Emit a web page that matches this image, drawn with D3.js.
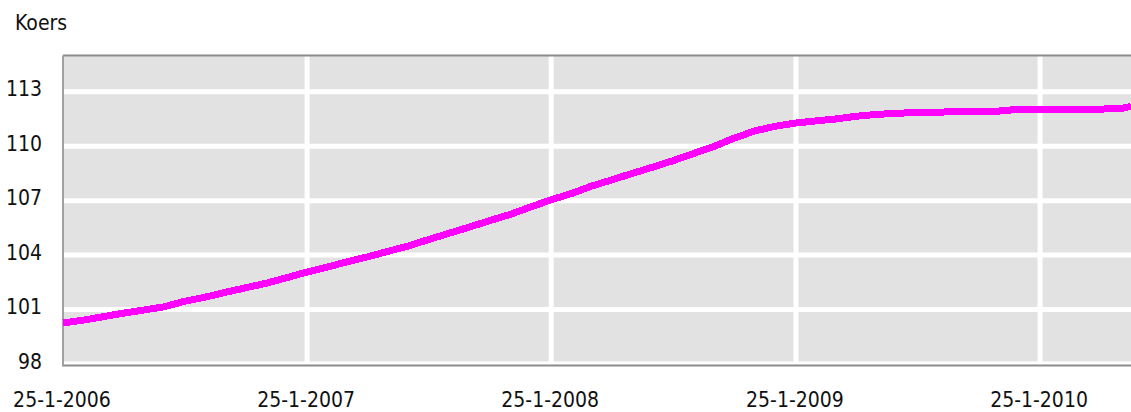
<!DOCTYPE html>
<html>
<head>
<meta charset="utf-8">
<script src="https://d3js.org/d3.v7.min.js"></script>
<style>
  body { margin: 0; background: #fff; }
  text { font-family: "DejaVu Sans Condensed", "DejaVu Sans", sans-serif; font-size: 21px; fill: #111; }
</style>
</head>
<body>
<div id="chart"></div>
<script>
    // Koers per maand (25e van de maand)
    var dates = [
        "2006-01-25","2006-02-25","2006-03-25","2006-04-25","2006-05-25","2006-06-25",
        "2006-07-25","2006-08-25","2006-09-25","2006-10-25","2006-11-25","2006-12-25",
        "2007-01-25","2007-02-25","2007-03-25","2007-04-25","2007-05-25","2007-06-25",
        "2007-07-25","2007-08-25","2007-09-25","2007-10-25","2007-11-25","2007-12-25",
        "2008-01-25","2008-02-25","2008-03-25","2008-04-25","2008-05-25","2008-06-25",
        "2008-07-25","2008-08-25","2008-09-25","2008-10-25","2008-11-25","2008-12-25",
        "2009-01-25","2009-02-25","2009-03-25","2009-04-25","2009-05-25","2009-06-25",
        "2009-07-25","2009-08-25","2009-09-25","2009-10-25","2009-11-25","2009-12-25",
        "2010-01-25","2010-02-25","2010-03-25","2010-04-25","2010-05-25","2010-06-10"
    ];
    var koers = [
        100.26, 100.42, 100.60, 100.80, 100.97, 101.15,
        101.45, 101.68, 101.95, 102.20, 102.45, 102.75,
        103.07, 103.35, 103.62, 103.90, 104.20, 104.50,
        104.85, 105.20, 105.55, 105.90, 106.25, 106.65,
        107.05, 107.40, 107.80, 108.15, 108.50, 108.85,
        109.20, 109.60, 110.00, 110.45, 110.85, 111.10,
        111.28, 111.40, 111.50, 111.65, 111.75, 111.82,
        111.85, 111.88, 111.90, 111.92, 111.94, 112.04,
        112.05, 112.05, 112.05, 112.05, 112.06, 112.20
    ];
    var yTicks = [98, 101, 104, 107, 110, 113];
    var xTicks = ["2006-01-25", "2007-01-25", "2008-01-25", "2009-01-25", "2010-01-25"];

    var parse = d3.timeParse("%Y-%m-%d");
    var fmt = function(d) { return d.getDate() + "-" + (d.getMonth() + 1) + "-" + d.getFullYear(); };

    var W = 1131, H = 412;
    var pLeft = 63, pRight = 1131, pTop = 55.5, pBottom = 364;

    var data = dates.map(function(d, i) { return { date: parse(d), v: koers[i] }; });

    var x = d3.scaleTime()
        .domain([parse("2006-01-25"), parse("2010-06-10")])
        .range([pLeft, pRight]);
    var y = d3.scaleLinear()
        .domain([98, 115])
        .range([pBottom, pTop]);

    var svg = d3.select("#chart").append("svg")
        .attr("width", W)
        .attr("height", H);

    svg.append("text")
        .attr("x", 15).attr("y", 30)
        .text("Koers");

    // plot background
    svg.append("rect")
        .attr("x", pLeft).attr("y", pTop)
        .attr("width", pRight - pLeft).attr("height", pBottom - pTop)
        .attr("fill", "#e2e2e2");

    // horizontal grid
    svg.append("g").selectAll("line")
        .data(yTicks)
        .enter().append("line")
        .attr("x1", pLeft).attr("x2", pRight)
        .attr("y1", function(d) { return y(d); })
        .attr("y2", function(d) { return y(d); })
        .attr("stroke", "#fff").attr("stroke-width", 5);

    // vertical grid
    svg.append("g").selectAll("line")
        .data(xTicks.slice(1))
        .enter().append("line")
        .attr("x1", function(d) { return x(parse(d)); })
        .attr("x2", function(d) { return x(parse(d)); })
        .attr("y1", pTop).attr("y2", pBottom)
        .attr("stroke", "#fff").attr("stroke-width", 5);

    // frame
    svg.append("line").attr("x1", pLeft).attr("x2", pRight).attr("y1", pTop).attr("y2", pTop)
        .attr("stroke", "#8c8c8c").attr("stroke-width", 2);
    svg.append("line").attr("x1", pLeft).attr("x2", pRight).attr("y1", pBottom + 1.5).attr("y2", pBottom + 1.5)
        .attr("stroke", "#8c8c8c").attr("stroke-width", 2);
    svg.append("line").attr("x1", pLeft).attr("x2", pLeft).attr("y1", pTop).attr("y2", pBottom + 2.5)
        .attr("stroke", "#a0a0a0").attr("stroke-width", 2);

    // y labels
    svg.append("g").selectAll("text")
        .data(yTicks)
        .enter().append("text")
        .attr("x", 42)
        .attr("y", function(d) { return y(d) + 4.5; })
        .attr("text-anchor", "end")
        .text(function(d) { return d; });

    // x labels
    svg.append("g").selectAll("text")
        .data(xTicks)
        .enter().append("text")
        .attr("x", function(d) { return x(parse(d)) - 1; })
        .attr("y", 407)
        .attr("text-anchor", "middle")
        .text(function(d) { return fmt(parse(d)); });

    // koerslijn
    var line = d3.line()
        .x(function(d) { return x(d.date); })
        .y(function(d) { return y(d.v); });

    svg.append("path")
        .datum(data)
        .attr("d", line)
        .attr("fill", "none")
        .attr("stroke", "#ff00ff")
        .attr("stroke-width", 7)
        .attr("shape-rendering", "crispEdges");
</script>
</body>
</html>
